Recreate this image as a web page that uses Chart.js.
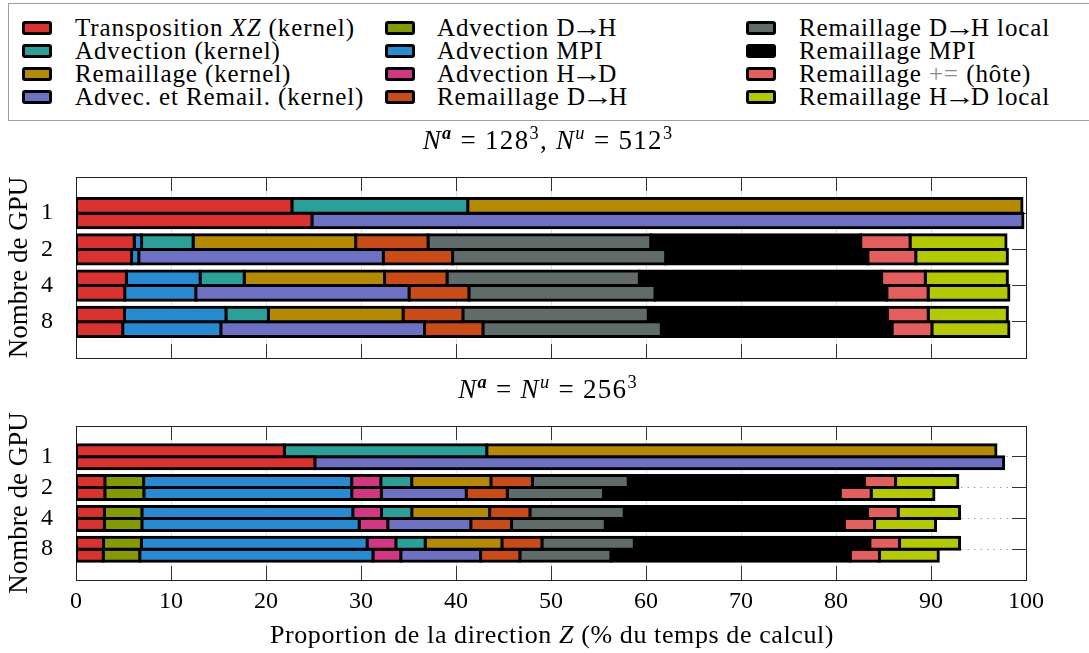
<!DOCTYPE html>
<html><head><meta charset="utf-8">
<script src="https://cdn.jsdelivr.net/npm/chart.js@4/dist/chart.umd.min.js"></script>
<style>
html,body{margin:0;padding:0;background:#fff;}
body{width:1089px;height:653px;position:relative;overflow:hidden;font-family:"Liberation Serif",serif;color:#000;}
#legend{position:absolute;left:8px;top:3px;width:1100px;height:118px;border:1px solid #9aa0a0;box-sizing:border-box;}
.sw{position:absolute;width:30px;height:14px;border:3px solid #000;border-radius:3px;box-sizing:border-box;}
.lt{position:absolute;font-size:25px;line-height:23px;white-space:nowrap;letter-spacing:0.9px;}
.ar{display:inline-block;letter-spacing:0;margin:0 -1px 0 -1px;transform:scaleX(1.25);}
canvas{position:absolute;left:0;}
.title{position:absolute;left:0;width:1096px;text-align:center;font-size:27px;line-height:30px;white-space:nowrap;letter-spacing:1.3px;z-index:2;}
.xt{position:absolute;left:0;width:1104px;text-align:center;font-size:26px;line-height:30px;white-space:nowrap;letter-spacing:0.6px;z-index:2;}
sup{font-size:68%;line-height:0;}
</style>
</head><body>
<div id="legend"></div>
<div class="title" style="top:125px;"><i>N</i><sup><b><i>a</i></b></sup> = 128<sup>3</sup>, <i>N</i><sup><i>u</i></sup> = 512<sup>3</sup></div>
<div class="title" style="top:374px;"><i>N</i><sup><b><i>a</i></b></sup> = <i>N</i><sup><i>u</i></sup> = 256<sup>3</sup></div>
<div class="xt" style="top:620px;">Proportion de la direction <i>Z</i> (% du temps de calcul)</div>
<canvas id="c1" width="1089" height="230" style="top:150px;"></canvas>
<canvas id="c2" width="1089" height="263" style="top:390px;"></canvas>
<script>
// ---- categories ----
const gpuLabels = ['1', '2', '4', '8'];
const xTicks = [0, 10, 20, 30, 40, 50, 60, 70, 80, 90, 100];

// ---- series (legend order) ----
const seriesKeys = ['transpo','advK','remK','advRem','advDH','advMPI','advHD','remDH','remDHloc','remMPI','remAdd','remHDloc'];
const seriesNames = ['Transposition <i>XZ</i> (kernel)','Advection (kernel)','Remaillage (kernel)','Advec. et Remail. (kernel)',
  'Advection D→H','Advection MPI','Advection H→D','Remaillage D→H',
  'Remaillage D→H local','Remaillage MPI','Remaillage <span style="color:#8a8a8a">+=</span> (hôte)','Remaillage H→D local'];
const seriesColors = ['#dc322f','#2aa198','#b58900','#6c71c4','#859900','#268bd2','#d33682','#cb4b16','#606c6a','#000000','#e35e5c','#b5c900'];
// stacking order along a bar
const stackOrder = ['transpo','advDH','advMPI','advHD','advK','remK','advRem','remDH','remDHloc','remMPI','remAdd','remHDloc'];

// ---- Panel A : N^a = 128^3, N^u = 512^3  (per GPU count 1,2,4,8) ----
// "sep" bar = separate advection / remeshing kernels, "fus" bar = fused kernel
const A_transpo_sep  = [22.73, 6.13, 5.31, 5.10];
const A_transpo_fus  = [24.84, 5.85, 5.13, 4.92];
const A_advMPI_sep   = [null, 0.77, 7.76, 10.69];
const A_advMPI_fus   = [null, 0.76, 7.48, 10.33];
const A_advK_sep     = [18.51, 5.43, 4.64, 4.46];
const A_remK_sep     = [58.34, 17.11, 14.77, 14.18];
const A_advRem_fus   = [74.84, 25.74, 22.45, 21.44];
const A_remDH_sep    = [null, 7.62, 6.58, 6.30];
const A_remDH_fus    = [null, 7.29, 6.30, 6.15];
const A_remDHloc_sep = [null, 23.44, 20.24, 19.51];
const A_remDHloc_fus = [null, 22.43, 19.59, 18.77];
const A_remMPI_sep   = [null, 22.10, 25.50, 25.16];
const A_remMPI_fus   = [null, 21.28, 24.40, 24.29];
const A_remAdd_sep   = [null, 5.20, 4.60, 4.31];
const A_remAdd_fus   = [null, 5.05, 4.35, 4.20];
const A_remHDloc_sep = [null, 10.10, 8.64, 8.33];
const A_remHDloc_fus = [null, 9.64, 8.50, 8.10];

// ---- Panel B : N^a = N^u = 256^3 ----
const B_transpo_sep  = [21.94, 3.04, 2.99, 2.90];
const B_transpo_fus  = [25.15, 3.04, 2.99, 2.87];
const B_advDH_sep    = [null, 4.08, 3.95, 3.99];
const B_advDH_fus    = [null, 4.11, 3.95, 3.84];
const B_advMPI_sep   = [null, 21.90, 22.20, 23.76];
const B_advMPI_fus   = [null, 21.88, 22.87, 24.55];
const B_advHD_sep    = [null, 3.07, 3.02, 3.02];
const B_advHD_fus    = [null, 3.11, 3.01, 2.93];
const B_advK_sep     = [21.30, 3.25, 3.19, 3.09];
const B_remK_sep     = [53.60, 8.34, 8.19, 8.08];
const B_advRem_fus   = [72.50, 8.94, 8.74, 8.40];
const B_remDH_sep    = [null, 4.36, 4.25, 4.21];
const B_remDH_fus    = [null, 4.32, 4.28, 4.14];
const B_remDHloc_sep = [null, 10.09, 9.92, 9.72];
const B_remDHloc_fus = [null, 10.13, 9.87, 9.58];
const B_remMPI_sep   = [null, 24.84, 25.61, 24.79];
const B_remMPI_fus   = [null, 24.91, 25.15, 25.19];
const B_remAdd_sep   = [null, 3.30, 3.23, 3.13];
const B_remAdd_fus   = [null, 3.27, 3.20, 3.08];
const B_remHDloc_sep = [null, 6.56, 6.46, 6.32];
const B_remHDloc_fus = [null, 6.60, 6.42, 6.19];

const panelA = {
  sep: {transpo:A_transpo_sep, advMPI:A_advMPI_sep, advK:A_advK_sep, remK:A_remK_sep, remDH:A_remDH_sep,
        remDHloc:A_remDHloc_sep, remMPI:A_remMPI_sep, remAdd:A_remAdd_sep, remHDloc:A_remHDloc_sep},
  fus: {transpo:A_transpo_fus, advMPI:A_advMPI_fus, advRem:A_advRem_fus, remDH:A_remDH_fus,
        remDHloc:A_remDHloc_fus, remMPI:A_remMPI_fus, remAdd:A_remAdd_fus, remHDloc:A_remHDloc_fus}
};
const panelB = {
  sep: {transpo:B_transpo_sep, advDH:B_advDH_sep, advMPI:B_advMPI_sep, advHD:B_advHD_sep, advK:B_advK_sep, remK:B_remK_sep,
        remDH:B_remDH_sep, remDHloc:B_remDHloc_sep, remMPI:B_remMPI_sep, remAdd:B_remAdd_sep, remHDloc:B_remHDloc_sep},
  fus: {transpo:B_transpo_fus, advDH:B_advDH_fus, advMPI:B_advMPI_fus, advHD:B_advHD_fus, advRem:B_advRem_fus,
        remDH:B_remDH_fus, remDHloc:B_remDHloc_fus, remMPI:B_remMPI_fus, remAdd:B_remAdd_fus, remHDloc:B_remHDloc_fus}
};

// ---- legend (HTML, 3 columns, column-major) ----
const legend = document.getElementById('legend');
const swX = [13, 376, 737], txX = [66, 428, 790];
seriesKeys.forEach((k, i) => {
  const col = Math.floor(i / 4), row = i % 4;
  const cy = 24 + row * 23;
  const sw = document.createElement('div');
  sw.className = 'sw';
  sw.style.left = swX[col] + 'px'; sw.style.top = (cy - 7) + 'px';
  sw.style.background = seriesColors[i];
  legend.appendChild(sw);
  const t = document.createElement('div');
  t.className = 'lt';
  t.style.left = txX[col] + 'px'; t.style.top = (cy - 12.5) + 'px';
  t.innerHTML = seriesNames[i].replace(/→/g, '<span class="ar">→</span>');
  legend.appendChild(t);
});

// ---- charts ----
const FONT = '"Liberation Serif", serif';
const yLabels = ['', ...gpuLabels, ''];
const pad = a => [null, ...a, null];
const isEdge = i => i === 0 || i === yLabels.length - 1;

function buildDatasets(panel, catPct) {
  const out = [];
  stackOrder.forEach(key => {
    ['sep', 'fus'].forEach(st => {
      const arr = panel[st][key];
      if (!arr) return;
      const idx = seriesKeys.indexOf(key);
      out.push({
        label: seriesNames[idx].replace(/<[^>]+>/g, ''),
        data: pad(arr),
        stack: st,
        backgroundColor: seriesColors[idx],
        borderColor: '#000',
        borderWidth: 3,
        borderSkipped: false,
        inflateAmount: 1.5,
        barPercentage: 1,
        categoryPercentage: catPct
      });
    });
  });
  return out;
}

function makeChart(id, panel, catPct, x2H, xH, showX) {
  return new Chart(document.getElementById(id), {
    type: 'bar',
    data: { labels: yLabels, datasets: buildDatasets(panel, catPct) },
    options: {
      indexAxis: 'y', responsive: false, animation: false, devicePixelRatio: 1,
      layout: { padding: 0 },
      plugins: { legend: { display: false }, tooltip: { enabled: false }, title: { display: false } },
      scales: {
        x: {
          type: 'linear', position: 'bottom', min: xTicks[0], max: xTicks[xTicks.length - 1], stacked: true,
          afterBuildTicks: s => { s.ticks = xTicks.map(v => ({ value: v })); },
          ticks: { display: showX, autoSkip: false, maxRotation: 0, font: { family: FONT, size: 24 }, color: '#000', padding: 21 },
          grid: { color: 'rgba(0,0,0,0.12)', lineWidth: 1, tickColor: '#333', tickWidth: 1, tickLength: -14 },
          border: { color: '#222', width: 1 },
          afterFit: s => { s.height = xH; s.paddingLeft = 0; s.paddingRight = 0; }
        },
        x2: {
          type: 'linear', position: 'top', min: xTicks[0], max: xTicks[xTicks.length - 1],
          afterBuildTicks: s => { s.ticks = xTicks.map(v => ({ value: v })); },
          ticks: { display: false },
          grid: { drawOnChartArea: false, tickColor: '#333', tickWidth: 1, tickLength: -14 },
          border: { color: '#222', width: 1 },
          afterFit: s => { s.height = x2H; s.paddingLeft = 0; s.paddingRight = 0; }
        },
        y: {
          type: 'category', position: 'left', offset: false, stacked: true,
          grid: { offset: false, drawTicks: false, lineWidth: 1,
                  color: c => isEdge(c.index) ? 'rgba(0,0,0,0)' : '#a0a0a0' },
          border: { color: '#222', width: 1, dash: [1.5, 5] },
          ticks: { autoSkip: false, font: { family: FONT, size: 24 }, color: '#000', padding: 23 },
          title: { display: true, text: 'Nombre de GPU', font: { family: FONT, size: 27 }, color: '#000', padding: { top: 4, bottom: 0 } },
          afterFit: s => { s.width = 76; s.paddingTop = 0; s.paddingBottom = 0; }
        },
        y2: {
          type: 'category', position: 'right', offset: false,
          grid: { offset: false, drawOnChartArea: false, tickLength: -14, tickWidth: 1,
                  tickColor: c => isEdge(c.index) ? 'rgba(0,0,0,0)' : '#333' },
          border: { color: '#222', width: 1 },
          ticks: { display: false, autoSkip: false },
          afterFit: s => { s.width = 63; s.paddingTop = 0; s.paddingBottom = 0; }
        }
      }
    }
  });
}

makeChart('c1', panelA, 0.81, 27, 22, false);
makeChart('c2', panelB, 0.78, 36, 73, true);
</script>
</body></html>
